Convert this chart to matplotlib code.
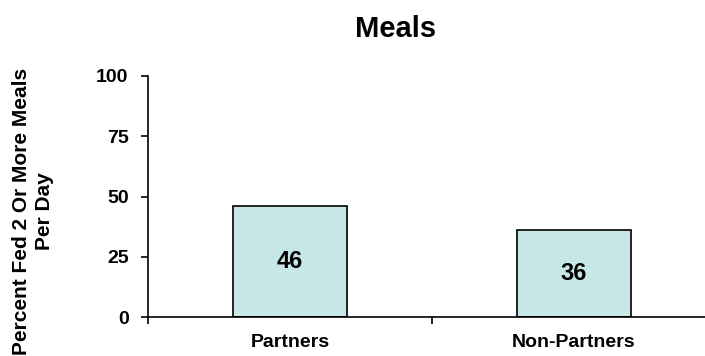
import matplotlib
matplotlib.use("Agg")
import matplotlib.pyplot as plt

categories = ["Partners", "Non-Partners"]
values = [46, 36]
yticks = [0, 25, 50, 75, 100]

plt.rcParams['font.family'] = ['Liberation Sans', 'DejaVu Sans']
plt.rcParams['font.weight'] = 'bold'

fig = plt.figure(figsize=(7.05, 3.56), dpi=100)
W, H = 705, 356
left, right = 148, 716
top, bottom = 76, 317
ax = fig.add_axes([left / W, 1 - bottom / H, (right - left) / W, (bottom - top) / H])

x = list(range(len(categories)))
ax.bar(x, values, width=0.4, color='#C6E6E8', edgecolor='black', linewidth=1.2, zorder=2)
for xi, v in zip(x, values):
    ax.text(xi, v / 2, str(v), ha='center', va='center', fontsize=17, fontweight='bold')

ax.set_xlim(-0.5, len(categories) - 0.5)
ax.set_ylim(0, 100)
ax.set_yticks(yticks)
ax.set_yticklabels([str(t) for t in yticks], fontsize=14, fontweight='bold')
ax.set_xticks([i - 0.5 for i in range(len(categories) + 1)])
ax.set_xticklabels([])
ax.set_xticks(x, minor=True)
ax.set_xticklabels(categories, minor=True, fontsize=14, fontweight='bold')
ax.tick_params(axis='x', which='minor', length=0, pad=12)
ax.tick_params(axis='x', which='major', length=5, width=1.2, direction='out')
ax.tick_params(axis='y', length=5, width=1.2, direction='out', pad=9)

for s in ['top', 'right']:
    ax.spines[s].set_visible(False)
for s in ['left', 'bottom']:
    ax.spines[s].set_linewidth(1.2)

fig.text(33 / W, 1 - 211 / H, "Percent Fed 2 Or More Meals\nPer Day", rotation=90,
         ha='center', va='center', fontsize=15, fontweight='bold', linespacing=1.2)
fig.text(396 / W, 1 - 29 / H, "Meals", ha='center', va='center', fontsize=21, fontweight='bold')

fig.savefig("out.png", dpi=100)
